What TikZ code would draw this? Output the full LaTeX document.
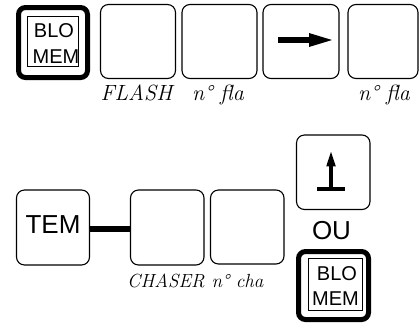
\documentclass[tikz,border=0pt]{standalone}
\usepackage{fontspec}
\newfontfamily\arialf{Liberation Sans}
\usetikzlibrary{calc}
\begin{document}
\begin{tikzpicture}[x=1pt,y=-1pt,
  key/.style={draw,line width=1.1pt,rounded corners=8pt,inner sep=0pt,outer sep=0pt},
  thickkey/.style={draw,line width=5pt,rounded corners=7pt,inner sep=0pt,outer sep=0pt},
  innerbox/.style={draw,line width=0.8pt,inner sep=0pt,outer sep=0pt},
  keytxt/.style={font=\arialf\fontsize{20}{24}\selectfont,inner sep=0pt,anchor=base},
  lbl/.style={font=\itshape\fontsize{22}{26}\selectfont,inner sep=0pt,anchor=base},
  lblb/.style={font=\itshape\fontsize{19}{23}\selectfont,inner sep=0pt,anchor=base},
  bar/.style={line width=5.5pt}]
\useasboundingbox (0,0) rectangle (419,322);
% top row
\node[thickkey,minimum width=69pt,minimum height=70pt] (k1) at (53,42.5) {};
\node[innerbox,minimum width=51pt,minimum height=50pt] (i1) at (52.5,41.5) {};
\node[keytxt] (t1a) at (54,37) {BLO};
\node[keytxt] (t1b) at (56,63) {MEM};
\node[key,minimum width=75pt,minimum height=74pt] (k2) at (138,41.5) {};
\node[key,minimum width=75pt,minimum height=74pt] (k3) at (219.5,41.5) {};
\node[key,minimum width=76pt,minimum height=74pt] (k4) at (301,41.5) {};
\node[key,minimum width=70pt,minimum height=74pt] (k5) at (383,41.5) {};
\draw[line width=6pt] ($(k4)+(-23,-1.5)$) -- ($(k4)+(10,-1.5)$);
\fill ($(k4)+(8,-8.5)$) -- ($(k4)+(31,-1.5)$) -- ($(k4)+(8,5.5)$) -- cycle;
\node[lbl] (l2) at (136.5,100) {FLASH};
\node[lbl] (l3) at (218,100) {n° fla};
\node[lbl] (l5) at (384,100) {n° fla};
% bottom row
\node[key,minimum width=73pt,minimum height=75pt] (tem) at (53,227.5) {};
\node[font=\arialf\fontsize{26}{30}\selectfont,inner sep=0pt,anchor=base] (temt) at (53,233) {TEM};
\node[key,minimum width=73.5pt,minimum height=75pt] (chaser) at (167.25,227.5) {};
\node[key,minimum width=73.5pt,minimum height=74pt] (cha) at (247.25,227) {};
\draw[bar] ([yshift=-1.5pt]tem.east) -- ([yshift=-1.5pt]chaser.west);
\node[lblb] (lc) at (166,287) {CHASER};
\node[lblb] (lcn) at (237.5,287) {n° cha};
\node[key,minimum width=73.5pt,minimum height=74.5pt] (up) at (333.25,172.25) {};
\draw[line width=3.2pt] ($(up)+(-2.25,-8)$) -- ($(up)+(-2.25,16.5)$);
\fill ($(up)+(-2.25,-20.5)$) -- ($(up)+(2.5,-6)$) -- ($(up)+(-7,-6)$) -- cycle;
\draw[line width=4pt] ($(up)+(-16.25,16.5)$) -- ($(up)+(11.75,16.5)$);
\node[font=\arialf\fontsize{26}{30}\selectfont,inner sep=0pt,anchor=base] (ou) at (331.5,239) {OU};
\node[thickkey,minimum width=70pt,minimum height=68pt] (k6) at (333.5,285.5) {};
\node[innerbox,minimum width=54pt,minimum height=52pt] (i6) at (335,284) {};
\node[keytxt] (t6a) at (337,280) {BLO};
\node[keytxt] (t6b) at (335.5,305) {MEM};
\end{tikzpicture}
\end{document}
